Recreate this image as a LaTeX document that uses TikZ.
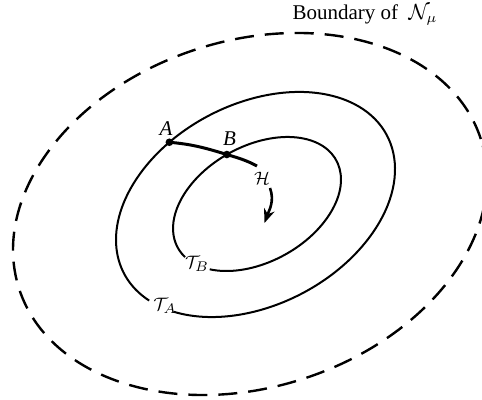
\documentclass[tikz,border=0pt]{standalone}
\usepackage{fontspec}
\setmainfont{Liberation Serif}
\usetikzlibrary{arrows.meta}
\begin{document}
\begin{tikzpicture}[x=0.5pt,y=0.5pt,
  curve/.style={line width=1pt},
  bound/.style={line width=1.2pt, dash pattern=on 9.5pt off 5.5pt},
  lbl/.style={inner sep=0pt, font=\fontsize{9.5}{10}\selectfont},
  dot/.style={circle, fill, inner sep=0pt, minimum size=3.8pt}]
\useasboundingbox (0,0) rectangle (482,400);
% outer boundary
\begin{scope}[shift={(250,186)}, rotate=18]
  \draw[bound] (0,0) ellipse [x radius=242.7, y radius=173.2];
\end{scope}
% T_A
\begin{scope}[shift={(255.5,195.5)}, rotate=27.7]
  \draw[curve] (214.4:148.5 and 100.4) arc[start angle=214.4, end angle=560.8, x radius=148.5, y radius=100.4];
  \coordinate (A) at (108.6:148.5 and 100.4);
\end{scope}
% T_B
\begin{scope}[shift={(257,196)}, rotate=29]
  \draw[curve] (216.2:90.5 and 57.9) arc[start angle=216.2, end angle=551.5, x radius=90.5, y radius=57.9];
  \coordinate (B) at (91.5:90.5 and 57.9);
\end{scope}
% H curve
\coordinate (Hend) at (257,234);
\draw[line width=1.5pt] (A) to[out=-5,in=163] (B) to[out=-17,in=152] (Hend);
\node[dot] (dA) at (A) {};
\node[dot] (dB) at (B) {};
% labels
\node[lbl, font=\fontsize{10.5}{11}\selectfont] (lA) at (166,271) {\textit{A}};
\node[lbl, font=\fontsize{10.5}{11}\selectfont] (lB) at (229.5,261) {\textit{B}};
\node[lbl] (lH) at (262,222) {$\mathcal{H}$};
\node[lbl] (lTA) at (165,94) {$\mathcal{T}_{A}$};
\node[lbl] (lTB) at (197,136) {$\mathcal{T}_{B}$};
% arrow
\coordinate (ar0) at (270,212);
\coordinate (ar1) at (264.5,177);
\draw[line width=1.3pt, -{Stealth[length=7pt,width=5.5pt]}] (ar0) to[out=-70,in=70] (ar1);
% title
\node[inner sep=0pt, font=\fontsize{10.5}{12}\selectfont] (title) at (365,385) {Boundary of\enspace$\mathcal{N}_{\mu}$};
\end{tikzpicture}
\end{document}
